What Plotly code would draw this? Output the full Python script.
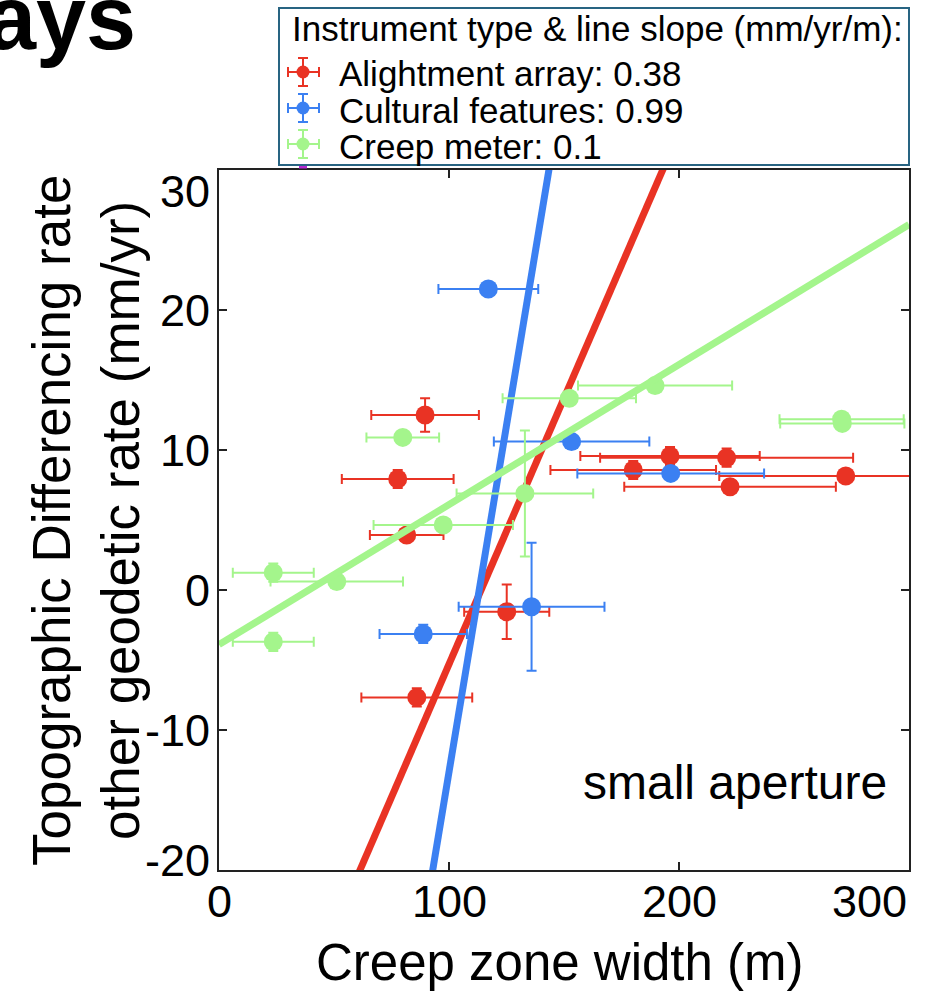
import plotly.graph_objects as go

# ---------------- data ----------------
red_x = [89.6, 77.7, 81.6, 125.1, 86.0, 180.1, 196.1, 220.7, 222.2, 272.5]
red_y = [12.5, 7.93, 3.93, -1.55, -7.67, 8.57, 9.57, 9.45, 7.38, 8.14]
red_xerr = [23.4, 24.3, 16.0, 18.5, 24.1, 36.0, 39.0, 55.0, 46.0, 55.0]
red_yerr = [1.2, 0.65, 0.4, 1.95, 0.65, 0.65, 0.65, 0.65, 0.3, 0.3]

blue_x = [117.1, 153.3, 196.4, 88.8, 135.9]
blue_y = [21.5, 10.6, 8.33, -3.14, -1.19]
blue_xerr = [21.7, 33.8, 40.6, 19.0, 31.7]
blue_yerr = [0.3, 0.3, 0.3, 0.65, 4.57]

green_x = [189.6, 152.3, 270.7, 271.0, 133.0, 79.9, 97.5, 23.6, 51.2, 23.6]
green_y = [14.6, 13.7, 12.2, 11.9, 6.9, 10.9, 4.64, 1.24, 0.6, -3.7]
green_xerr = [33.5, 29.0, 27.0, 27.0, 29.7, 15.8, 30.3, 17.6, 28.8, 17.6]
green_yerr = [0.3, 0.3, 0.3, 0.3, 4.5, 0.3, 0.3, 0.65, 0.3, 0.65]

# fitted lines (slope mm/yr/m, intercept mm/yr)
red_fit = [0.38, -43.3]
blue_fit = [0.99, -112.0]
green_fit = [0.10, -3.9]

series_names = ["Alightment array", "Cultural features", "Creep meter"]
slope_labels = ["0.38", "0.99", "0.1"]
legend_title = "Instrument type & line slope (mm/yr/m):"

x_tick_vals = [0, 100, 200, 300]
x_tick_text = ["0", "100", "200", "300"]
y_tick_vals = [-20, -10, 0, 10, 20, 30]
y_tick_text = ["-20", "-10", "0", "10", "20", "30"]
x_range = [0, 300]
y_range = [-20, 30]

# ---------------- styling ----------------
W, H = 936, 992
L, R, T, B = 219, 909, 170, 870  # plot area in pixels
RED = "rgb(233,51,36)"
BLUE = "rgb(59,128,242)"
GREEN = "rgb(164,245,140)"
FONT = "Liberation Sans, Arial, Helvetica, sans-serif"


def px(xp):
    return (xp - L) / (R - L)


def py(yp):
    return (B - yp) / (B - T)


fig = go.Figure()

datasets = [
    (red_x, red_y, red_xerr, red_yerr, red_fit, RED),
    (blue_x, blue_y, blue_xerr, blue_yerr, blue_fit, BLUE),
    (green_x, green_y, green_xerr, green_yerr, green_fit, GREEN),
]

for (xs, ys, xe, ye, fit, col), name in zip(datasets, series_names):
    fig.add_trace(go.Scatter(
        x=xs, y=ys, mode="markers", name=name, showlegend=False,
        marker=dict(size=19, color=col),
        error_x=dict(type="data", array=xe, visible=True, color=col, thickness=2, width=5),
        error_y=dict(type="data", array=ye, visible=True, color=col, thickness=2, width=5),
    ))
    lx = [x_range[0], x_range[1]]
    ly = [fit[0] * v + fit[1] for v in lx]
    fig.add_trace(go.Scatter(
        x=lx, y=ly, mode="lines", showlegend=False,
        line=dict(color=col, width=7),
    ))

annotations = []
# tick labels
for v, t in zip(x_tick_vals, x_tick_text):
    anchor = "right" if v == x_range[1] else "center"
    annotations.append(dict(x=v, xref="x", y=py(874), yref="paper", text=t,
                            showarrow=False, xanchor=anchor, yanchor="top",
                            font=dict(size=45, color="black", family=FONT)))
for v, t in zip(y_tick_vals, y_tick_text):
    if v == y_range[1]:
        yv, yr = py(191), "paper"
    elif v == y_range[0]:
        yv, yr = py(860), "paper"
    else:
        yv, yr = v, "y"
    annotations.append(dict(x=px(212), xref="paper", y=yv, yref=yr, text=t,
                            showarrow=False, xanchor="right", yanchor="middle",
                            font=dict(size=45, color="black", family=FONT)))
# axis titles
annotations.append(dict(x=px(560), y=py(962), xref="paper", yref="paper",
                        text="Creep zone width (m)", showarrow=False,
                        xanchor="center", yanchor="middle",
                        font=dict(size=51, color="black", family=FONT)))
annotations.append(dict(x=px(86), y=py(521), xref="paper", yref="paper",
                        text="Topographic Differencing rate<br>other geodetic rate (mm/yr)",
                        showarrow=False, textangle=-90,
                        xanchor="center", yanchor="middle",
                        font=dict(size=53, color="black", family=FONT)))
# panel label
annotations.append(dict(x=px(735), y=py(782), xref="paper", yref="paper",
                        text="small aperture", showarrow=False,
                        xanchor="center", yanchor="middle",
                        font=dict(size=48, color="black", family=FONT)))
# cut-off slide title (partly outside the picture, as in the source slide)
annotations.append(dict(x=px(138), y=py(18), xref="paper", yref="paper",
                        text="<b>ays</b>", showarrow=False,
                        xanchor="right", yanchor="middle",
                        font=dict(size=90, color="black", family=FONT)))

# manual legend
shapes = []
shapes.append(dict(type="rect", xref="paper", yref="paper",
                   x0=px(279), x1=px(909), y0=py(8), y1=py(165),
                   line=dict(color="rgb(40,100,130)", width=2), fillcolor="white"))
annotations.append(dict(x=px(290), y=py(28), xref="paper", yref="paper",
                        text=legend_title, showarrow=False,
                        xanchor="left", yanchor="middle",
                        font=dict(size=35, color="black", family=FONT)))
row_y = [72, 108, 144]
for i, ((_, _, _, _, _, col), name, sl) in enumerate(zip(datasets, series_names, slope_labels)):
    yy = row_y[i]
    cx = 303

    def seg(x0, y0, x1, y1):
        shapes.append(dict(type="line", xref="paper", yref="paper",
                           x0=px(x0), y0=py(y0), x1=px(x1), y1=py(y1),
                           line=dict(color=col, width=2)))
    seg(288, yy, 319, yy)
    seg(288, yy - 5, 288, yy + 5)
    seg(319, yy - 5, 319, yy + 5)
    seg(cx, yy - 14, cx, yy + 14)
    seg(cx - 5, yy - 14, cx + 5, yy - 14)
    seg(cx - 5, yy + 14, cx + 5, yy + 14)
    shapes.append(dict(type="circle", xref="paper", yref="paper",
                       x0=px(cx - 6.5), x1=px(cx + 6.5), y0=py(yy - 6.5), y1=py(yy + 6.5),
                       line=dict(color=col, width=0), fillcolor=col))
    annotations.append(dict(x=px(337), y=py(yy + 2), xref="paper", yref="paper",
                            text=f"{name}: {sl}", showarrow=False,
                            xanchor="left", yanchor="middle",
                            font=dict(size=35, color="black", family=FONT)))
# peek of the 4th (clipped) legend entry
shapes.append(dict(type="rect", xref="paper", yref="paper",
                   x0=px(299), x1=px(307), y0=py(166), y1=py(168.5),
                   line=dict(width=0), fillcolor="rgb(180,40,210)"))

axis_common = dict(showline=True, linecolor="#222", linewidth=2, mirror="ticks",
                   ticks="inside", ticklen=8, tickwidth=2, tickcolor="#222",
                   showticklabels=False, showgrid=False, zeroline=False)

fig.update_layout(
    width=W, height=H,
    margin=dict(l=L, r=W - R, t=T, b=H - B, pad=0),
    paper_bgcolor="white", plot_bgcolor="white",
    xaxis=dict(range=x_range, tickvals=x_tick_vals, **axis_common),
    yaxis=dict(range=y_range, tickvals=y_tick_vals, **axis_common),
    annotations=annotations,
    shapes=shapes,
    showlegend=False,
    font=dict(family=FONT),
)

fig.write_html("out.html")
